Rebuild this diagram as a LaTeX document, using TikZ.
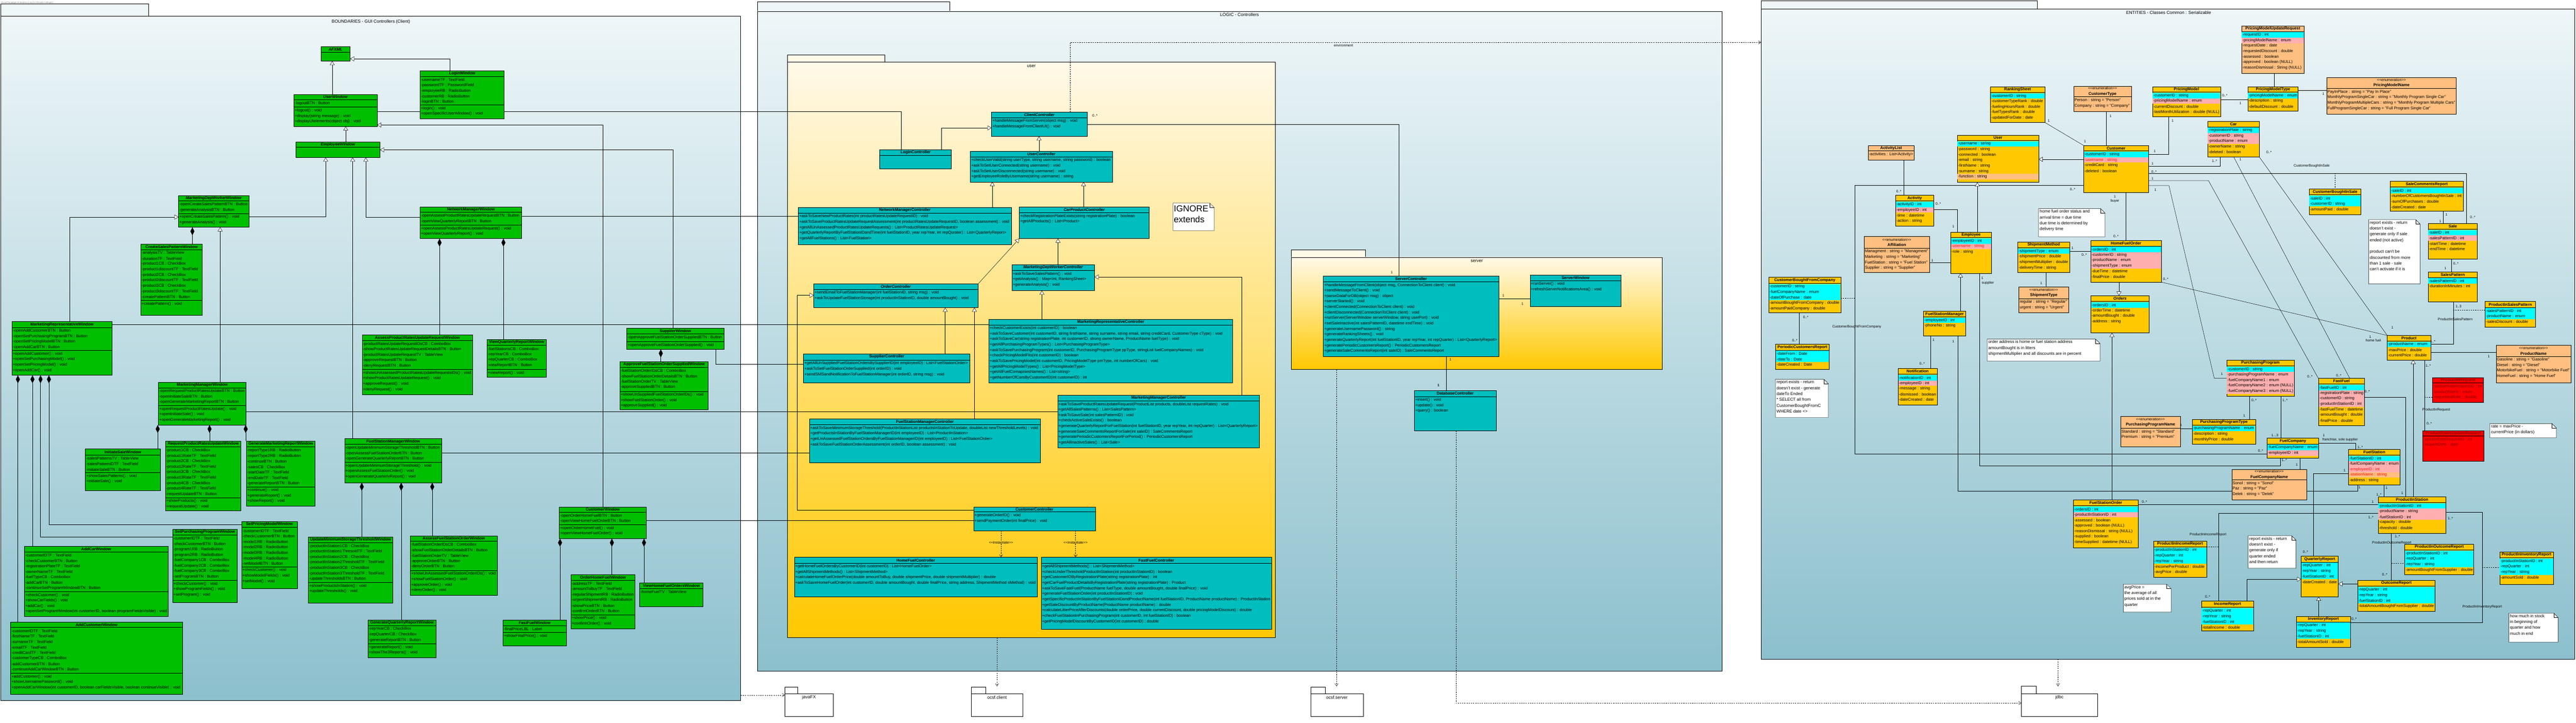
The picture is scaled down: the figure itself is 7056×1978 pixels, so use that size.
\documentclass[tikz,border=0pt]{standalone}
\usepackage{fontspec}
\setmainfont{Liberation Sans}
\usetikzlibrary{arrows.meta,fit}
\definecolor{grn}{HTML}{00BF00}
\definecolor{teal2}{HTML}{00BEBE}
\definecolor{gold}{HTML}{FFC800}
\definecolor{cyn}{HTML}{00FFFF}
\definecolor{pnk}{HTML}{FFAFAF}
\definecolor{pch}{HTML}{FFBF80}
\definecolor{redb}{HTML}{FF0000}
\definecolor{redt}{HTML}{8A0000}
\definecolor{rtx}{HTML}{FF1010}
\definecolor{pkgtop}{HTML}{EEF6F8}
\definecolor{pkgbot}{HTML}{8CC0CD}
\definecolor{ytop}{HTML}{FFF9E8}
\definecolor{ybot}{HTML}{FFC800}
\pgfdeclarelayer{pk}
\pgfdeclarelayer{cn}
\pgfsetlayers{pk,cn,main}
\newcount\Nc
\newcommand\Nn{\global\advance\Nc by 1\relax}
\newcommand\rowfont{\fontsize{11}{15}\selectfont}
\tikzset{
  rowt/.style={anchor=west,inner sep=0pt,font=\rowfont},
  ttl/.style={inner sep=0pt,font=\rowfont\bfseries,align=center},
  mlt/.style={inner sep=0pt,font=\fontsize{9.5}{11}\selectfont},
  notet/.style={inner sep=0pt,anchor=north west,align=left,font=\fontsize{11.5}{16}\selectfont},
  pkt/.style={inner sep=0pt,font=\fontsize{12}{14}\selectfont},
  bord/.style={draw=black,line width=0.9pt},
  ln/.style={line width=0.7pt},
  gen/.style={ln,-{Triangle[length=11pt,width=13pt,fill=white]}},
  comp/.style={ln,{Diamond[length=22pt,width=11pt]}-},
  dep/.style={ln,dashed,-{Straight Barb[length=7pt,width=9pt]}},
  dsh/.style={ln,dashed},
}
\newcommand\Bx[8]{%
  \node[fit={(#2,#3)(#4,#5)},inner sep=0pt,outer sep=0pt,bord,fill=#6] (#1) {};
  \def\bxa{#2}\def\bxb{#4}%
  \draw[line width=0.9pt] (#2,#7) -- (#4,#7);
  \Nn\node[ttl] (h\the\Nc) at ({(#2+#4)/2},{(#3+#7)/2}) {#8};
  \pgfmathsetmacro\curY{#7+2}}
\newcommand\Rw[1]{\Nn\node[rowt] (t\the\Nc) at (\bxa+2,\curY+7.5) {#1};\pgfmathsetmacro\curY{\curY+15}}
\newcommand\Rc[2]{\fill[#1] (\bxa+0.6,\curY) rectangle (\bxb-0.6,\curY+15);\Rw{#2}}
\newcommand\Sp[1]{\draw[line width=0.9pt] (\bxa,#1) -- (\bxb,#1);\pgfmathsetmacro\curY{#1+2}}
\newcommand\Enm{{\mdseries\fontsize{10}{15}\selectfont <{}<enumeration>{}>}\\}
\newcommand\Ml[3]{\Nn\node[mlt] (m\the\Nc) at (#1,#2) {#3};}
\newcommand\Nt[6]{\draw[fill=white,line width=0.7pt] (#2,#3) -- (#4-12,#3) -- (#4,#3+12) -- (#4,#5) -- (#2,#5) -- cycle;
  \draw[line width=0.7pt] (#4-12,#3) -- (#4-12,#3+12) -- (#4,#3+12);
  \node[notet] (#1) at (#2+3,#3+3) {#6};}
\newcommand\Pk[8]{\draw[line width=0.9pt,fill=#7] (#1,#2) rectangle (#3,#4);
  \shade[top color=#7,bottom color=#8] (#1,#4) rectangle (#5,#6);
  \draw[line width=0.9pt] (#1,#4) rectangle (#5,#6);}
\begin{document}
\begin{tikzpicture}[x=1pt,y=-1pt]
\useasboundingbox (0,0) rectangle (7056,1978);
\begin{pgfonlayer}{pk}
\fill[white] (0,0) rectangle (7056,1978);
\Pk{2.5}{10}{407}{44}{2029}{1917}{pkgtop}{pkgbot}
\Pk{2075}{5}{2601}{31}{4716}{1836}{pkgtop}{pkgbot}
\Pk{2157}{150}{2424}{170}{3493}{1745}{ytop}{ybot}
\Pk{3537}{684}{3740}{704}{4553}{1011}{ytop}{ybot}
\Pk{4824}{2}{5580}{24}{7052}{1804}{pkgtop}{pkgbot}
\draw[line width=0.9pt,fill=white] (2150,1880) rectangle (2185,1898) (2150,1898) rectangle (2282,1960);
\draw[line width=0.9pt,fill=white] (2660,1880) rectangle (2700,1898) (2660,1898) rectangle (2802,1960);
\draw[line width=0.9pt,fill=white] (3590,1880) rectangle (3630,1898) (3590,1898) rectangle (3735,1960);
\draw[line width=0.9pt,fill=white] (5537,1878) rectangle (5578,1898) (5537,1898) rectangle (5746,1960);
\end{pgfonlayer}
\node[anchor=west,inner sep=0pt,font=\fontsize{6}{7}\selectfont,text=gray] (wm) at (2,7) {Visual Paradigm Enterprise (Lior(Ort Braude College))};
\node[pkt] (tB) at (1016,59) {BOUNDARIES - GUI Controllers (Client)};
\node[pkt] (tL) at (3395,40) {LOGIC - Controllers};
\node[pkt] (tE) at (5940,34) {ENTITIES - Classes Common : Serializable};
\node[pkt] (tU) at (2825,181) {user};
\node[pkt] (tS) at (4045,714) {server};
\node[pkt] (tJ1) at (2216,1908) {javaFX};
\node[pkt] (tJ2) at (2731,1908) {ocsf.client};
\node[pkt] (tJ3) at (3662,1908) {ocsf.server};
\node[pkt] (tJ4) at (5641,1908) {jdbc};
\node[mlt] (tEnv) at (3680,124) {environment};
\coordinate (entL) at (4824,116);
\coordinate (srvB) at (3661,1011);
\coordinate (ocsfS) at (3661,1878);
\coordinate (jdbcL) at (5537,1924);
\coordinate (userB) at (2731,1745);
\coordinate (ocsfC) at (2731,1878);
\coordinate (bndR) at (2029,1902);
\coordinate (jfxL) at (2150,1902);
\coordinate (entB) at (5637,1804);
\coordinate (jdbcT) at (5637,1878);
% ================= BOUNDARIES =================
\Bx{AFXML}{879}{127}{959}{167}{grn}{143}{\textit{AFXML}}
\Bx{UserWindow}{805}{258}{1033}{346}{grn}{273}{\textit{UserWindow}}
\Rw{-logoutBTN : Button}\Sp{293}
\Rw{+logout() : void}\Rw{+display(string message) : void}\Rw{+displayUIelements(object obj) : void}
\Bx{EmployeeWindow}{811}{388}{1041}{431}{grn}{403}{\textit{EmployeeWindow}}
\Bx{LoginWindow}{1151}{194}{1381}{325}{grn}{209}{LoginWindow}
\Rw{-usernameTF : TextField}\Rw{-passwordTF : PasswordField}\Rw{-employeeRB : RadioButton}\Rw{-customerRB : RadioButton}\Rw{-loginBTN : Button}\Sp{287}
\Rw{+login() : void}\Rw{+openSpecificUserWindow() : void}
\Bx{NetworkManagerWindow}{1151}{566}{1429}{653}{grn}{581}{NetworkManagerWindow}
\Rw{-openAssessProductRatesUpdateRequestBTN : Button}\Rw{-openViewQuarterlyReportBTN : Button}\Sp{616}
\Rw{+openAssessProductRatesUpdateRequest() : void}\Rw{+openViewQuarterlyReport() : void}
\Bx{MarketingDepWorkerWindow}{489}{535}{682}{622}{grn}{550}{\textit{MarketingDepWorkerWindow}}
\Rw{-openCreateSalesPatternBTN : Button}\Rw{-generateAnalysisBTN : Button}\Sp{584}
\Rw{+openCreateSalesPattern() : void}\Rw{+generateAnalysis() : void}
\Bx{CreateSalesPatternWindow}{386}{668}{554}{862}{grn}{683}{CreateSalesPatternWindow}
\Rw{-analysisTV : TableView}\Rw{-durationTF : TextField}\Rw{-product1CB : CheckBox}\Rw{-product1discountTF : TextField}\Rw{-product2CB : CheckBox}\Rw{-product2discountTF : TextField}\Rw{-product3CB : CheckBox}\Rw{-product3discountTF : TextField}\Rw{-createPatternBTN : Button}\Sp{822}
\Rw{+createPattern() : void}
\Bx{MarketingRepresentativeWindow}{33}{880}{307}{1027}{grn}{896}{MarketingRepresentativeWindow}
\Rw{-openAddCustomerBTN : Button}\Rw{-openSetPurchasingProgramBTN : Button}\Rw{-openSetPricingModelBTN : Button}\Rw{-openAddCarBTN : Button}\Sp{959}
\Rw{+openAddCustomer() : void}\Rw{+openSetPurchasingModel() : void}\Rw{+openSetPricingModel() : void}\Rw{+openAddCar() : void}
\Bx{MarketingManagerWindow}{434}{1046}{674}{1163}{grn}{1061}{MarketingManagerWindow}
\Rw{-openRequestProductRatesUpdateBTN : Button}\Rw{-openInitiateSaleBTN : Button}\Rw{-openGenerateMarketingReportBTN : Button}\Sp{1110}
\Rw{+openRequestProductRatesUpdate() : void}\Rw{+openInitiateSale() : void}\Rw{+openGenerateMarketingReport() : void}
\Bx{InitiateSaleWindow}{234}{1228}{439}{1343}{grn}{1245}{InitiateSaleWindow}
\Rw{-salesPatternsTV : TableView}\Rw{-salesPatternIDTF : TextField}\Rw{-initiateSaleBTN : Button}\Sp{1293}
\Rw{+showSalesPatterns() : void}\Rw{+initiateSale() : void}
\Bx{RequestProductRatesUpdateWindow}{453}{1207}{660}{1398}{grn}{1223}{RequestProductRatesUpdateWindow}
\Rw{-product1CB : CheckBox}\Rw{-product1RateTF : TextField}\Rw{-product2CB : CheckBox}\Rw{-product2RateTF : TextField}\Rw{-product3CB : CheckBox}\Rw{-product3RateTF : TextField}\Rw{-product4CB : CheckBox}\Rw{-product4RateTF : TextField}\Rw{-requestUpdateBTN : Button}\Sp{1362}
\Rw{+showProducts() : void}\Rw{+requestUpdate() : void}
\Bx{GenerateMarketingReportWindow}{675}{1207}{863}{1385}{grn}{1223}{GenerateMarketingReportWindow}
\Rw{-reportType1RB : RadioButton}\Rw{-reportType2RB : RadioButton}\Rw{-continueBTN : Button}\Rw{-salesCB : CheckBox}\Rw{-startDateTF : TextField}\Rw{-endDateTF : TextField}\Rw{-generateReportBTN : Button}\Sp{1332}
\Rw{+continue() : void}\Rw{+generateReport() : void}\Rw{+showReport() : void}
\Bx{SetPricingModelWindow}{662}{1427}{814}{1610}{grn}{1443}{SetPricingModelWindow}
\Rw{-customerIDTF : TextField}\Rw{-checkCustomerBTN : Button}\Rw{-model1RB : RadioButton}\Rw{-model2RB : RadioButton}\Rw{-model3RB : RadioButton}\Rw{-model4RB : RadioButton}\Rw{-setModelBTN : Button}\Sp{1551}
\Rw{+checkCustomer() : void}\Rw{+showModelFields() : void}\Rw{+setModel() : void}
\Bx{SetPurchasingProgramWindow}{473}{1448}{650}{1649}{grn}{1464}{SetPurchasingProgramWindow}
\Rw{-customerIDTF : TextField}\Rw{-checkCustomerBTN : Button}\Rw{-program1RB : RadioButton}\Rw{-program2RB : RadioButton}\Rw{-fuelCompany1CB : ComboBox}\Rw{-fuelCompany2CB : ComboBox}\Rw{-fuelCompany3CB : ComboBox}\Rw{-setProgramBTN : Button}\Sp{1588}
\Rw{+checkCustomer() : void}\Rw{+showProgramFields() : void}\Rw{+setProgram() : void}
\Bx{AddCarWindow}{67}{1495}{460}{1687}{grn}{1510}{AddCarWindow}
\Rw{-customerIDTF : TextField}\Rw{-checkCustomerBTN : Button}\Rw{-registrationPlateTF : TextField}\Rw{-ownerNameTF : TextField}\Rw{-fuelTypeCB : ComboBox}\Rw{-addCarBTN : Button}\Rw{-continueSetProgramWindowBTN : Button}\Sp{1619}
\Rw{+checkCustomer() : void}\Rw{+showCarFields() : void}\Rw{+addCar() : void}\Rw{+openSetProgramWindow(int customerID, boolean programFieldsVisible) : void}
\Bx{AddCustomerWindow}{29}{1702}{500}{1900}{grn}{1717}{AddCustomerWindow}
\Rw{-customerIDTF : TextField}\Rw{-firstNameTF : TextField}\Rw{-surnameTF : TextField}\Rw{-emailTF : TextField}\Rw{-creditCardTF : TextField}\Rw{-customerTypeCB : ComboBox}\Rw{-addCustomerBTN : Button}\Rw{-continueAddCarWindowBTN : Button}\Sp{1842}
\Rw{+addCustomer() : void}\Rw{+showUsernamePassword() : void}\Rw{+openAddCarWindow(int customerID, boolean carFieldsVisible, boolean continueVisible) : void}
\Bx{FuelStationManagerWindow}{944}{1200}{1210}{1321}{grn}{1216}{FuelStationManagerWindow}
\Rw{-openUpdateMinimumStorageThresholdBTN : Button}\Rw{-openAssessFuelStationOrderBTN : Button}\Rw{-openGenerateQuarterlyReportBTN : Button}\Sp{1265}
\Rw{+openUpdateMinimumStorageThreshold() : void}\Rw{+openAssessFuelStationOrder() : void}\Rw{+openGenerateQuarterlyReport() : void}
\Bx{UpdateMinimumStorageThresholdWindow}{845}{1470}{1076}{1650}{grn}{1485}{UpdateMinimumStorageThresholdWindow}
\Rw{-productInStation1CB : CheckBox}\Rw{-productInStation1ThresoldTF : TextField}\Rw{-productInStation2CB : CheckBox}\Rw{-productInStation2ThresholdTF : TextField}\Rw{-productInStation3CB : CheckBox}\Rw{-productInStation3ThresholdTF : TextField}\Rw{-updateThresholdsBTN : Button}\Sp{1594}
\Rw{+showProductsInStation() : void}\Rw{+updateThresholds() : void}
\Bx{AssessFuelStationOrderWindow}{1124}{1466}{1362}{1629}{grn}{1481}{AssessFuelStationOrderWindow}
\Rw{-fuelStationOrderIDsCB : ComboBox}\Rw{-showFuelStationOrderDetailsBTN : Button}\Rw{-fuelStationOrderTV : TableView}\Rw{-approveOrderBTN : Button}\Rw{-denyOrderBTN : Button}\Sp{1561}
\Rw{+showUnAssessedFuelStationOrderIDs() : void}\Rw{+showFuelStationOrder() : void}\Rw{+approveOrder() : void}\Rw{+denyOrder() : void}
\Bx{GenerateQuarterlyReportWindow}{1008}{1697}{1194}{1800}{grn}{1712}{GenerateQuarterlyReportWindow}
\Rw{-repYearCB : CheckBox}\Rw{-repQuarterCB : CheckBox}\Rw{-generateReportBTN : Button}\Sp{1762}
\Rw{+generateReport() : void}\Rw{+showThe3Reports() : void}
\Bx{AssessProductRatesUpdateRequestWindow}{992}{917}{1295}{1080}{grn}{932}{AssessProductRatesUpdateRequestWindow}
\Rw{-productRatesUpdateRequestIDsCB : ComboBox}\Rw{-showProductRatesUpdateRequestDetailsBTN : Button}\Rw{-productRatesUpdateRequestTV : TableView}\Rw{-approveRequestBTN : Button}\Rw{-denyRequestBTN : Button}\Sp{1011}
\Rw{+showUnAssessedProductRatesUpdateRequestsIDs() : void}\Rw{+showProductRatesUpdateRequest() : void}\Rw{+approveRequest() : void}\Rw{+denyRequest() : void}
\Bx{ViewQuarterlyReportWindow}{1334}{929}{1496}{1032}{grn}{945}{ViewQuarterlyReportWindow}
\Rw{-fuelStationsCB : ComboBox}\Rw{-repYearCB : ComboBox}\Rw{-repQuarterCB : ComboBox}\Rw{-viewReportBTN : Button}\Sp{1011}
\Rw{+viewReport() : void}
\Bx{SupplierWindow}{1717}{898}{1983}{956}{grn}{914}{SupplierWindow}
\Rw{-openApproveFuelStationOrderSuppliedBTN : Button}\Sp{935}
\Rw{+openApproveFuelStationOrderSupplied() : void}
\Bx{ApproveFuelStationOrderSuppliedWindow}{1698}{989}{1940}{1121}{grn}{1005}{ApproveFuelStationOrderSuppliedWindow}
\Rw{-fuelStationOrderIDsCB : ComboBox}\Rw{-showFuelStationOrderDetailsBTN : Button}\Rw{-fuelStationOrderTV : TableView}\Rw{-approveSuppliedBTN : Button}\Sp{1071}
\Rw{+showUnSuppliedFuelStationOrderIDs() : void}\Rw{+showFuelStationOrder() : void}\Rw{+approveSupplied() : void}
\Bx{CustomerWindow}{1532}{1387}{1770}{1474}{grn}{1402}{CustomerWindow}
\Rw{-openOrderHomeFuelBTN : Button}\Rw{-openViewHomeFuelOrderBTN : Button}\Sp{1436}
\Rw{+openOrderHomeFuel() : void}\Rw{+openViewHomeFuelOrder() : void}
\Bx{FastFuelWindow}{1378}{1697}{1551}{1767}{grn}{1712}{FastFuelWindow}
\Rw{-finalPriceLBL : Label}\Sp{1731}
\Rw{+showFinalPrice() : void}
\Bx{OrderHomeFuelWindow}{1564}{1572}{1739}{1720}{grn}{1588}{OrderHomeFuelWindow}
\Rw{-addressTF : TextField}\Rw{-amountToBuyTF : TextField}\Rw{-regularShipmentRB : RadioButton}\Rw{-urgentShipmentRB : RadioButton}\Rw{-showPriceBTN : Button}\Rw{-confirmOrderBTN : Button}\Sp{1682}
\Rw{+showPrice() : void}\Rw{+confirmOrder() : void}
\Bx{ViewHomeFuelOrdersWindow}{1752}{1595}{1926}{1660}{grn}{1610}{ViewHomeFuelOrdersWindow}
\Rw{-homeFuelTV : TableView}
% ================= LOGIC =================
\Bx{ClientController}{2716}{306}{2978}{373}{teal2}{322}{\textit{ClientController}}
\Rw{+handleMessageFromServer(object msg) : void}\Rw{+handleMessageFromClientUI() : void}
\Bx{LoginController}{2410}{410}{2606}{462}{teal2}{425}{LoginController}
\Bx{UserController}{2658}{414}{3047}{498}{teal2}{429}{\textit{UserController}}
\Rw{+checkUserValid(string userType, string username, string password) : boolean}\Rw{+askToSetUserConnected(string username) : void}\Rw{+askToSetUserDisconnected(string username) : void}\Rw{+getEmployeeRoleByUsername(string username) : string}
\Bx{NetworkManagerController}{2187}{568}{2770}{669}{teal2}{583}{NetworkManagerController}
\Rw{+askToSaveNewProductRates(int productRatesUpdateRequestID) : void}\Rw{+askToSaveProductRatesUpdateRequestAssessment(int productRatesUpdateRequestID, boolean assessment) : void}\Rw{+getAllUnAssessedProductRatesUpdateRequests() : List<ProductRatesUpdateRequest>}\Rw{+getQuarterlyReportByFuelStationIDandTime(int fuelStationID, year repYear, int repQurater) : List<QuarterlyReport>}\Rw{+getAllFuelStations() : List<FuelStation>}
\Bx{CarProductController}{2792}{567}{3148}{653}{teal2}{582}{\textit{CarProductController}}
\Rw{+checkRegistrationPlateExists(string registrationPlate) : boolean}\Rw{+getAllProducts() : List<Product>}
\Bx{MarketingDepWorkerController}{2772}{724}{2998}{795}{teal2}{740}{\textit{MarketingDepWorkerController}}
\Rw{+askToSaveSalesPattern() : void}\Rw{+getAnalysis() : Map<int, RankingSheet>}\Rw{+generateAnalysis() : void}
\Bx{OrderController}{2229}{777}{2679}{842}{teal2}{792}{\textit{OrderController}}
\Rw{+sendEmailToFuelStationManager(int fuelStationID, string msg) : void}\Rw{+askToUpdateFuelStationStorage(int productInStationID, double amountBought) : void}
\Bx{MarketingRepresentativeController}{2709}{874}{3376}{1048}{teal2}{889}{MarketingRepresentativeController}
\Rw{+checkCustomerExists(int customerID) : boolean}\Rw{+askToSaveCustomer(int customerID, string firstName, string surname, string email, string creditCard, CustomerType cType) : void}\Rw{+askToSaveCar(string registrationPlate, int customerID, strong ownerName, ProductName fuelType) : void}\Rw{+getAllPurchasingProgramTypes() : List<PurchasingProgramType>}\Rw{+askToSavePurchasingProgram(int customerID, PurchasingProgramType ppType, stringList fuelCompanyNames) : void}\Rw{+checkPricingModelFits(int customerID) : boolean}\Rw{+askToSavePricingModel(int customerID, PricingModelType pmType, int numberOfCars) : void}\Rw{+getAllPricingModelTypes() : List<PricingModelType>}\Rw{+getAllFuelComapniesNames() : List<string>}\Rw{+getNumberOfCarsByCustomerID(int customerID) : int}
\Bx{SupplierController}{2201}{968}{2657}{1047}{teal2}{985}{SupplierController}
\Rw{+getAllUnSuppliedFuelStationOrdersBySupplierID(int employeeID) : List<FuelStationOrder>}\Rw{+askToSetFuelStationOrderSupplied(int orderID) : void}\Rw{+sendSMSandNotificationToFuelStationManager(int orderID, string msg) : void}
\Bx{MarketingManagerController}{2897}{1081}{3450}{1225}{teal2}{1097}{MarketingManagerController}
\Rw{+askToSaveProductRatesUpdateRequest(ProductList products, doubleList requestRates) : void}\Rw{+getAllSalesPatterns() : List<SalesPattern>}\Rw{+askToSaveSale(int salesPatternID) : void}\Rw{+checkActiveSaleExists() : boolean}\Rw{+generateQuarterlyReportForFuelStation(int fuelStationID, year repYear, int repQuarter) : List<QuarterlyReport>}\Rw{+generateSaleCommentsReportForSale(int saleID) : SaleCommentsReport}\Rw{+generatePeriodicCustomersReportForPeriod() : PeriodicCustomersReport}\Rw{+getAllInactiveSales() : List<Sale>}
\Bx{FuelStationManagerController}{2217}{1147}{2850}{1266}{teal2}{1162}{FuelStationManagerController}
\Rw{+askToSaveMinimumStorageThreshold(ProductInStationList productsInStationToUpdate, doubleList newThresholdLevels) : void}\Rw{+getProductsInStationByFuelStationManagerID(int employeeID) : List<ProductInStation>}\Rw{+getUnAssessedFuelStationOrdersByFuelStationManagerID(int employeeID) : List<FuelStationOrder>}\Rw{+askToSaveFuelStationOrderAssessment(int orderID, boolean assessment) : void}
\Bx{CustomerController}{2667}{1387}{3000}{1452}{teal2}{1401}{CustomerController}
\Rw{+generateOrderID() : void}\Rw{+sendPaymentOrder(int finalPrice) : void}
\Bx{HomeFuelController}{2176}{1525}{2841}{1633}{teal2}{1541}{HomeFuelController}
\Rw{+getHomeFuelOrdersByCustomerID(int customerID) : List<HomeFuelOrder>}\Rw{+getAllShipmentMethods() : List<ShipmentMethod>}\Rw{+calculateHomeFuelOrderPrice(double amountToBuy, double shipmentPrice, double shipmentMultiplier) : double}\Rw{+askToSaveHomeFuelOrder(int customerID, double amountBought, double finalPrice, string address, ShipmentMethod sMethod) : void}
\Bx{FastFuelController}{2852}{1525}{3483}{1722}{teal2}{1541}{FastFuelController}
\Rw{+getAllShipmentMethods() : List<ShipmentMethod>}\Rw{+checkUnderThresholdProductInStation(int productInStationID) : boolean}\Rw{+getCustomerIDByRegistrationPlate(string registrationPlate) : int}\Rw{+getCarFuelProductDetailsByRegistrationPlate(string registrationPlate) : Product}\Rw{+askToSaveFastFuel(ProductName fuelType, double amountBought, double finalPrice) : void}\Rw{+generateFuelStationOrder(int productInStationID) : void}\Rw{+getSpecificProductInStationByFuelStationIDandProductName(int fuelStationID, ProductName productName) : ProductInStation}\Rw{+getSaleDiscountByProductName(ProductName productName) : double}\Rw{+calculateLitterPriceAfterDiscounts(double orderPrice, double currentDiscount, double pricingModelDiscount) : double}\Rw{+checkFuelStationInPurchasingProgram(int customerID, int fuelStationID) : boolean}\Rw{+getPricingModelDiscountByCustomerID(int customerID) : double}
\Bx{ServerController}{3625}{755}{4105}{976}{teal2}{771}{ServerController}
\Rw{+handleMessageFromClient(object msg, ConnectionToClient client) : void}\Rw{+sendMessageToClient() : void}\Rw{+parseDataForDB(object msg) : object}\Rw{+serverStarted() : void}\Rw{+clientConnected(ConnectionToClient client) : void}\Rw{+clientDisconnected(ConnectionToClient client) : void}\Rw{+runServer(ServerWindow serverWindow, string userPort) : void}\Rw{+setSaleInactive(int salesPatternID, datetime endTime) : void}\Rw{+generateUsernamePassword() : string}\Rw{+generateRankingSheets() : void}\Rw{+generateQuarterlyReport(int fuelStationID, year repYear, int repQuarter) : List<QuarterlyReport>}\Rw{+generatePeriodicCustomersReport() : PeriodicCustomersReport}\Rw{+generateSaleCommentsReport(int saleID) : SaleCommentsReport}
\Bx{ServerWindow}{4191}{752}{4440}{839}{teal2}{768}{ServerWindow}
\Rw{+runServer() : void}\Rw{+refreshServerNotificationsArea() : void}
\Bx{DatabaseController}{3874}{1069}{4098}{1179}{teal2}{1085}{DatabaseController}
\Rw{+insert() : void}\Rw{+update() : void}\Rw{+query() : boolean}
\draw[line width=0.7pt,fill=white] (3213,556) -- (3314,556) -- (3326,568) -- (3326,631) -- (3213,631) -- cycle;
\draw[line width=0.7pt] (3314,556) -- (3314,568) -- (3326,568);
\node[inner sep=0pt,anchor=north west,align=left,font=\fontsize{24}{30}\selectfont] (ign) at (3215,562) {IGNORE\\extends};
% ================= ENTITIES =================
\Bx{RankingSheet}{5452}{238}{5601}{335}{gold}{253}{RankingSheet}
\Rc{cyn}{-customerID : string}\Rw{-customerTypeRank : double}\Rw{-fuelingHoursRank : double}\Rw{-fuelTypesRank : double}\Rw{-updatedForDate : date}
\Bx{CustomerType}{5680}{236}{5838}{305}{pch}{265}{\Enm CustomerType}
\Rw{Person : string = "Person"}\Rw{Company : string = "Company"}
\Bx{PricingModel}{5896}{237}{6082}{320}{gold}{252}{PricingModel}
\Rc{cyn}{-customerID : string}\Rc{pnk}{-pricingModelName : enum}\Rw{-currentDiscount : double}\Rw{-lastMonthUtilization : double (NULL)}
\Bx{User}{5361}{370}{5584}{499}{gold}{384}{User}
\Rc{cyn}{-username : string}\Rw{-password : string}\Rw{-connected : boolean}\Rw{-email : string}\Rw{-firstName : string}\Rw{-surname : string}\Rc{pch}{-function : string}
\Bx{Customer}{5707}{398}{5885}{527}{gold}{413}{Customer}
\Rc{cyn}{-customerID : string}\Rc{pnk}{\textcolor{rtx}{-username : string}}\Rw{-creditCard : string}\Rw{-deleted : boolean}
\Bx{ActivityList}{5117}{398}{5243}{438}{pch}{413}{ActivityList}
\Rw{-activities : List<Activity>}
\Bx{Activity}{5192}{534}{5297}{618}{gold}{550}{Activity}
\Rc{cyn}{-activityID : int}\Rc{pnk}{-employeeID : int}\Rw{-time : datetime}\Rw{-action : string}
\Bx{Employee}{5343}{635}{5455}{748}{gold}{650}{Employee}
\Rc{cyn}{-employeeID : int}\Rc{pnk}{\textcolor{rtx}{-username : string}}\Rw{-role : string}
\Bx{Affiliation}{5106}{647}{5285}{746}{pch}{679}{\Enm Affiliation}
\Rw{Managment : string = "Managment"}\Rw{Marketing : string = "Marketing"}\Rw{FuelStation : string = "Fuel Station"}\Rw{Supplier : string = "Supplier"}
\Bx{CustomerBoughtFromCompany}{4845}{758}{5042}{855}{gold}{775}{CustomerBoughtFromCompany}
\Rc{cyn}{-customerID : string}\Rc{cyn}{-fuelCompanyName : enum}\Rc{cyn}{-dateOfPurchase : date}\Rw{-amountBoughtFromCompany : double}\Rw{-amountPaidCompany : double}
\Bx{PeriodicCustomersReport}{4864}{942}{5010}{1011}{gold}{958}{PeriodicCustomersReport}
\Rc{cyn}{-dateFrom : Date}\Rc{cyn}{-dateTo : Date}\Rw{-dateCreated : Date}
\Bx{Notification}{5199}{1008}{5306}{1108}{gold}{1024}{Notification}
\Rc{cyn}{-notificationID : int}\Rc{pnk}{-employeeID : int}\Rw{-message : string}\Rw{-dismissed : boolean}\Rw{-dateCreated : date}
\Bx{FuelStationManager}{5269}{852}{5384}{919}{gold}{867}{FuelStationManager}
\Rc{cyn}{-employeeID : int}\Rw{-phoneNo : string}
\Bx{ShipmentMethod}{5527}{662}{5669}{745}{gold}{678}{ShipmentMethod}
\Rc{cyn}{-shipmentType : enum}\Rw{-shipmentPrice : double}\Rw{-shipmentMultiplier : double}\Rw{-deliveryTime : string}
\Bx{ShipmentType}{5530}{785}{5666}{855}{pch}{817}{\Enm ShipmentType}
\Rw{regular : string = "Regular"}\Rw{urgent : string = "Urgent"}
\Bx{HomeFuelOrder}{5727}{658}{5920}{772}{gold}{673}{HomeFuelOrder}
\Rc{cyn}{-ordersID : int}\Rc{pnk}{-customerID : string}\Rc{pnk}{-productName : enum}\Rc{pnk}{-shipmentType : enum}\Rw{-dueTime : datetime}\Rw{-finalPrice : double}
\Bx{Orders}{5727}{809}{5887}{911}{gold}{825}{\textit{Orders}}
\Rc{cyn}{-ordersID : int}\Rw{-orderTime : datetime}\Rw{-amountBought : double}\Rw{-address : string}
\Bx{FuelStationOrder}{5679}{1368}{5857}{1499}{gold}{1384}{FuelStationOrder}
\Rc{cyn}{-ordersID : int}\Rc{pnk}{-productInStationID : int}\Rw{-assessed : boolean}\Rw{-approved : boolean (NULL)}\Rw{-reasonDismissal : string (NULL)}\Rw{-supplied : boolean}\Rw{-timeSupplied : datetime (NULL)}
\Bx{PurchasingProgramName}{5809}{1139}{5972}{1223}{pch}{1172}{\Enm PurchasingProgramName}
\Rw{Standard : string = "Standard"}\Rw{Premium : string = "Premium"}
\Bx{ProductInIncomeReport}{5899}{1481}{6044}{1580}{gold}{1496}{ProductInIncomeReport}
\Rc{cyn}{-productInStationID : int}\Rc{cyn}{-repQuarter : int}\Rc{cyn}{-repYear : string}\Rw{-incomePerProduct : double}\Rw{-avgPrice : double}
\Bx{PricingModelUpdateRequest}{6140}{71}{6311}{201}{pch}{86}{PricingModelUpdateRequest}
\Rc{cyn}{-requestID : int}\Rc{pnk}{-pricingModelName : enum}\Rw{-requestDate : date}\Rw{-requestedDiscount : double}\Rw{-assessed : boolean}\Rw{-approved : boolean (NULL)}\Rw{-reasonDismissal : String (NULL)}
\Bx{PricingModelType}{6157}{237}{6295}{304}{gold}{252}{PricingModelType}
\Rc{cyn}{-pricingModelName : enum}\Rw{-description : string}\Rw{-defaultDiscount : double}
\Bx{PricingModelName}{6373}{212}{6728}{312}{pch}{242}{\Enm PricingModelName}
\Rw{PayInPlace : string = "Pay In Place"}\Rw{MonthlyProgramSingleCar : string = "Monthly Program Single Car"}\Rw{MonthlyProgramMultipleCars : string = "Monthly Program Multiple Cars"}\Rw{FullProgramSingleCar : string = "Full Program Single Car"}
\Bx{Car}{6047}{332}{6188}{429}{gold}{347}{Car}
\Rc{cyn}{-registrationPlate : string}\Rc{pnk}{-customerID : string}\Rc{pnk}{-productName : enum}\Rw{-ownerName : string}\Rw{-deleted : boolean}
\Bx{CustomerBoughtInSale}{6325}{517}{6467}{587}{gold}{533}{CustomerBoughtInSale}
\Rc{cyn}{-saleID : int}\Rc{cyn}{-customerID : string}\Rw{-amountPaid : double}
\Bx{SaleCommentsReport}{6547}{496}{6747}{578}{gold}{512}{SaleCommentsReport}
\Rc{cyn}{-saleID : int}\Rw{-numberOfCustomersBoughtInSale : int}\Rw{-sumOfPurchases : double}\Rw{-dateCreated : date}
\Bx{Sale}{6651}{611}{6786}{709}{gold}{627}{Sale}
\Rc{cyn}{-saleID : int}\Rc{pnk}{-salesPatternID : int}\Rw{-startTime : datetime}\Rw{-endTime : datetime}
\Bx{SalesPattern}{6651}{744}{6786}{826}{gold}{759}{SalesPattern}
\Rc{cyn}{-salesPatternID : int}\Rw{-durationInMinutes : int}
\Bx{ProductInSalesPattern}{6807}{825}{6945}{895}{gold}{841}{ProductInSalesPattern}
\Rc{cyn}{-salesPatternID : int}\Rc{cyn}{-productName : enum}\Rw{-salesDiscount : double}
\Bx{Product}{6539}{918}{6658}{985}{gold}{933}{Product}
\Rc{cyn}{-productName : enum}\Rw{-maxPrice : double}\Rw{-currentPrice : double}
\Bx{ProductName}{6837}{945}{7042}{1047}{pch}{975}{\Enm ProductName}
\Rw{Gasoline : string = "Gasoline"}\Rw{Diesel : string = "Diesel"}\Rw{MotorbikeFuel : string = "Motorbike Fuel"}\Rw{HomeFuel : string = "Home Fuel"}
\Bx{PurchasingProgram}{6099}{985}{6284}{1084}{gold}{1001}{PurchasingProgram}
\Rc{cyn}{-customerID : string}\Rc{pnk}{-purchasingProgramName : enum}\Rc{pnk}{-fuelCompanyName1 : enum}\Rc{pnk}{-fuelCompanyName2 : enum (NULL)}\Rc{pnk}{-fuelCompanyName3 : enum (NULL)}
\Bx{PurchasingProgramType}{6005}{1148}{6178}{1216}{gold}{1163}{PurchasingProgramType}
\Rc{cyn}{-purchasingProgramName : enum}\Rw{-description : string}\Rw{-monthlyPrice : double}
\Bx{FastFuel}{6351}{1035}{6476}{1165}{gold}{1051}{FastFuel}
\Rc{cyn}{-fastFuelID : int}\Rc{pnk}{-registrationPlate : string}\Rc{pnk}{-customerID : string}\Rc{pnk}{-productInStationID : int}\Rw{-fastFuelTime : datetime}\Rw{-amountBought : double}\Rw{-finalPrice : double}
\Bx{FuelCompany}{6210}{1199}{6351}{1253}{gold}{1215}{FuelCompany}
\Rc{cyn}{-fuelCompanyName : enum}\Rc{pnk}{-employeeID : int}
\Bx{FuelCompanyName}{6113}{1284}{6318}{1368}{pch}{1313}{\Enm FuelCompanyName}
\Rw{Sonol : string = "Sonol"}\Rw{Paz : string = "Paz"}\Rw{Delek : string = "Delek"}
\Bx{FuelStation}{6433}{1230}{6574}{1327}{gold}{1245}{FuelStation}
\Rc{cyn}{-fuelStationID : int}\Rc{pnk}{-fuelCompanyName : enum}\Rc{pnk}{\textcolor{rtx}{-employeeID : int}}\Rc{pch}{\textcolor{rtx}{-stationName : string}}\Rw{-address : string}
\Bx{ProductInStation}{6514}{1360}{6700}{1459}{gold}{1375}{ProductInStation}
\Rc{cyn}{-productInStationID : int}\Rc{pnk}{-productName : string}\Rc{pnk}{-fuelStationID : int}\Rw{-capacity : double}\Rw{-threshold : double}
\Bx{ProductInRequest}{6663}{1033}{6803}{1101}{redb}{1048}{\textcolor{redt}{ProductInRequest}}
\Rw{\textcolor{redt}{-updateRateRequestID : int}}\Rw{\textcolor{redt}{-productName : enum}}\Rw{\textcolor{redt}{-requestedRate : double}}
\Bx{ProductRatesUpdateRequest}{6636}{1179}{6804}{1262}{redb}{1193}{\textcolor{redt}{ProductRatesUpdateRequest}}
\Rw{\textcolor{redt}{-updateRateRequestID : int}}\Rw{\textcolor{redt}{-requestDate : date}}
\Bx{ProductInOutcomeReport}{6587}{1489}{6776}{1573}{gold}{1505}{ProductInOutcomeReport}
\Rc{cyn}{-productInStationID : int}\Rc{cyn}{-repQuarter : int}\Rc{cyn}{-repYear : string}\Rw{-amountBoughtFromSupplier : double}
\Bx{ProductInInventoryReport}{6847}{1510}{6994}{1599}{gold}{1526}{ProductInInventoryReport}
\Rc{cyn}{-productInStationID : int}\Rc{cyn}{-repQuarter : int}\Rc{cyn}{-repYear : string}\Rw{-amountSold : double}
\Bx{QuarterlyReport}{6303}{1522}{6405}{1633}{gold}{1538}{QuarterlyReport}
\Rc{cyn}{-repQuarter : int}\Rc{cyn}{-repYear : string}\Rc{cyn}{-fuelStationID : int}\Rw{-dateCreated : date}
\Bx{IncomeReport}{6030}{1645}{6173}{1727}{gold}{1662}{IncomeReport}
\Rc{cyn}{-repQuarter : int}\Rc{cyn}{-repYear : string}\Rc{cyn}{-fuelStationID : int}\Rw{-totalIncome : double}
\Bx{OutcomeReport}{6458}{1588}{6670}{1673}{gold}{1604}{OutcomeReport}
\Rc{cyn}{-repQuarter : int}\Rc{cyn}{-repYear : string}\Rc{cyn}{-fuelStationID : int}\Rw{-totalAmountBoughtFromSupplier : double}
\Bx{InventoryReport}{6290}{1687}{6438}{1771}{gold}{1702}{InventoryReport}
\Rc{cyn}{-repQuarter : int}\Rc{cyn}{-repYear : string}\Rc{cyn}{-fuelStationID : int}\Rw{-totalAmountSold : double}
% notes
\Nt{n1}{5584}{571}{5766}{648}{home fuel order status and\\arrival time = due time\\due time is determined by\\delivery time}
\Nt{n2}{5443}{928}{5752}{988}{order address is home or fuel station address\\amountBought is in litters\\shipmentMultiplier and all discounts are in percent}
\Nt{n3}{4863}{1038}{5008}{1142}{report exists - return\\doesn't exist - generate\\dateTo Ended\\* SELECT all from\\CustomerBoughtFromC\\ WHERE date <>}
\Nt{n4}{5816}{1599}{5947}{1675}{avgPrice =\\the average of all\\prices sold at in the\\quarter}
\Nt{n5}{6488}{601}{6629}{777}{report exists - return\\doesn't exist -\\generate only if sale\\ended (not active)\\[16pt]product can't be\\discounted from more\\than 1 sale - sale\\can't activate if it is}
\Nt{n6}{6820}{1159}{7002}{1198}{rate = maxPrice -\\currentPrice (in dollars)}
\Nt{n7}{6158}{1466}{6289}{1555}{report exists - return\\doesn't exist -\\generate only if\\quarter ended\\and then return}
\Nt{n8}{6872}{1678}{7007}{1757}{how much in stock\\in beginning of\\quarter and how\\much in end}
% ================= CONNECTORS =================
\begin{pgfonlayer}{cn}
\draw[gen] (UserWindow.north -| 910,0) -- (AFXML.south -| 910,0);
\draw[gen] (LoginWindow.north -| 1232,0) |- (AFXML.east |- 0,161);
\draw[gen] (EmployeeWindow.north -| 947,0) -- (UserWindow.south -| 947,0);
\draw[gen] (MarketingDepWorkerWindow.east |- 0,593) -| (EmployeeWindow.south -| 892,0);
\draw[gen] (FuelStationManagerWindow.north -| 966,0) -- (EmployeeWindow.south -| 966,0);
\draw[gen] (NetworkManagerWindow.west |- 0,594) -| (EmployeeWindow.south -| 1002,0);
\draw[gen] (CustomerWindow.north -| 1652,0) |- (UserWindow.east |- 0,342);
\draw[gen] (SupplierWindow.north -| 1843,0) |- (EmployeeWindow.east |- 0,410);
\draw[gen] (MarketingRepresentativeWindow.north -| 191,0) |- (MarketingDepWorkerWindow.west |- 0,594);
\draw[gen] (MarketingManagerWindow.north -| 603,0) -- (MarketingDepWorkerWindow.south -| 603,0);
\draw[comp] (MarketingDepWorkerWindow.south -| 527,0) -- (CreateSalesPatternWindow.north -| 527,0);
\draw[comp] (MarketingRepresentativeWindow.south -| 49,0) -- (AddCustomerWindow.north -| 49,0);
\draw[comp] (MarketingRepresentativeWindow.south -| 89,0) -- (AddCarWindow.north -| 89,0);
\draw[comp] (MarketingRepresentativeWindow.south -| 111,0) |- (SetPurchasingProgramWindow.west |- 0,1469);
\draw[comp] (MarketingRepresentativeWindow.south -| 134,0) |- (SetPricingModelWindow.west |- 0,1436);
\draw[comp] (MarketingManagerWindow.south -| 432,0) -- (InitiateSaleWindow.north -| 432,0);
\draw[comp] (MarketingManagerWindow.south -| 574,0) -- (RequestProductRatesUpdateWindow.north -| 574,0);
\draw[comp] (MarketingManagerWindow.south -| 673,0) -- (GenerateMarketingReportWindow.north -| 673,0);
\draw[comp] (NetworkManagerWindow.south -| 1204,0) -- (AssessProductRatesUpdateRequestWindow.north -| 1204,0);
\draw[comp] (NetworkManagerWindow.south -| 1379,0) -- (ViewQuarterlyReportWindow.north -| 1379,0);
\draw[comp] (FuelStationManagerWindow.south -| 991,0) -- (UpdateMinimumStorageThresholdWindow.north -| 991,0);
\draw[comp] (FuelStationManagerWindow.south -| 1099,0) -- (GenerateQuarterlyReportWindow.north -| 1099,0);
\draw[comp] (FuelStationManagerWindow.south -| 1184,0) -- (AssessFuelStationOrderWindow.north -| 1184,0);
\draw[comp] (SupplierWindow.south -| 1810,0) -- (ApproveFuelStationOrderSuppliedWindow.north -| 1810,0);
\draw[comp] (CustomerWindow.south -| 1534,0) -- (FastFuelWindow.north -| 1534,0);
\draw[comp] (CustomerWindow.south -| 1676,0) -- (OrderHomeFuelWindow.north -| 1676,0);
\draw[comp] (CustomerWindow.south -| 1764,0) -- (ViewHomeFuelOrdersWindow.north -| 1764,0);
\draw[ln] (UserWindow.east |- 0,305) -| (LoginController.north -| 2469,0);
\draw[ln] (NetworkManagerWindow.east |- 0,592) -- (NetworkManagerController.west |- 0,592);
\draw[ln] (MarketingRepresentativeWindow.east |- 0,888) -- (MarketingRepresentativeController.west |- 0,888);
\draw[ln] (MarketingManagerWindow.east |- 0,1126) -- (MarketingManagerController.west |- 0,1126);
\draw[ln] (FuelStationManagerWindow.east |- 0,1239) -- (FuelStationManagerController.west |- 0,1239);
\draw[ln] (CustomerWindow.east |- 0,1424) -- (CustomerController.west |- 0,1424);
\draw[ln] (SupplierWindow.south -| 1960,0) |- (SupplierController.west |- 0,997);
% logic
\draw[gen] (LoginController.north -| 2579,0) |- (ClientController.west |- 0,350);
\draw[gen] (UserController.north -| 2846,0) -- (ClientController.south -| 2846,0);
\draw[gen] (NetworkManagerController.north -| 2718,0) -- (UserController.south -| 2718,0);
\draw[gen] (CarProductController.north -| 2968,0) -- (UserController.south -| 2968,0);
\draw[gen] (MarketingDepWorkerController.north -| 2898,0) -- (CarProductController.south -| 2898,0);
\draw[gen] (OrderController.north east) -- (CarProductController.south west);
\draw[gen] (MarketingRepresentativeController.north -| 2854,0) -- (MarketingDepWorkerController.south -| 2854,0);
\draw[gen] (MarketingManagerController.north -| 3402,0) |- (MarketingDepWorkerController.east |- 0,758);
\draw[gen] (SupplierController.north -| 2589,0) -- (OrderController.south -| 2589,0);
\draw[gen] (FuelStationManagerController.north -| 2669,0) -- (OrderController.south -| 2669,0);
\draw[gen] (CustomerController.west |- 0,1396) -- (2183,1396) -- (2183,808) -- (OrderController.west |- 0,808);
\draw[dep] (CustomerController.south -| 2742,0) -- (HomeFuelController.north -| 2742,0);
\draw[dep] (CustomerController.south -| 2946,0) -- (FastFuelController.north -| 2946,0);
\draw[ln] (ClientController.east |- 0,340) -| (ServerController.north -| 3832,0);
\draw[dep] (ClientController.north -| 2931,0) |- (entL);
\draw[ln] (ServerController.east |- 0,817) -- (ServerWindow.west |- 0,817);
\draw[ln] (ServerController.south -| 3962,0) -- (DatabaseController.north -| 3962,0);
\draw[dep] (srvB) -- (ocsfS);
\draw[dep] (DatabaseController.south -| 3988,0) |- (jdbcL);
\draw[dep] (userB) -- (ocsfC);
\draw[dep] (bndR) -- (jfxL);
\draw[dep] (entB) -- (jdbcT);
% entities
\draw[ln] (RankingSheet.south east) -- (Customer.north west);
\draw[ln] (CustomerType.south -| 5769,0) -- (Customer.north -| 5769,0);
\draw[ln] (PricingModel.south -| 5940,0) |- (Customer.east |- 0,422);
\draw[gen] (Customer.west |- 0,436) -- (User.east |- 0,436);
\draw[ln] (Customer.east |- 0,455) -| (Car.south -| 6081,0);
\draw[ln] (Customer.east |- 0,474) -| (Sale.north -| 6755,0);
\draw[dsh] (6396,474) -- (CustomerBoughtInSale.north -| 6396,0);
\draw[ln] (Customer.east |- 0,494) -- (6049,494) -- (FastFuel.north -| 6350,0);
\draw[ln] (Customer.east |- 0,508) -- (5941,508) -- (6065,1035) -- (PurchasingProgram.west |- 0,1035);
\draw[ln] (Customer.west |- 0,507) -- (5081,507) -- (5081,1242) -- (FuelCompany.west |- 0,1242);
\draw[dsh] (CustomerBoughtFromCompany.east |- 0,816) -- (5081,816);
\draw[ln] (Customer.south -| 5823,0) -- (HomeFuelOrder.north -| 5823,0);
\draw[ln] (ActivityList.south -| 5214,0) -- (Activity.north -| 5214,0);
\draw[ln] (Activity.east |- 0,573) -| (Employee.north -| 5361,0);
\draw[gen] (Employee.north -| 5416,0) -- (User.south -| 5416,0);
\draw[ln] (Affiliation.east |- 0,719) -- (Employee.west |- 0,719);
\draw[gen] (FuelStationManager.north -| 5370,0) -- (Employee.south -| 5370,0);
\draw[ln] (Employee.south -| 5422,0) -- (5422,1275) -- (6246,1275) -- (FuelCompany.south -| 6246,0);
\draw[ln] (FuelStationManager.south -| 5288,0) -- (Notification.north -| 5288,0);
\draw[ln] (FuelStationManager.south -| 5363,0) -- (5363,1344) -- (6458,1344) -- (FuelStation.south -| 6458,0);
\draw[ln] (CustomerBoughtFromCompany.south -| 4928,0) -- (PeriodicCustomersReport.north -| 4928,0);
\draw[ln] (ShipmentMethod.east |- 0,687) -- (HomeFuelOrder.west |- 0,687);
\draw[ln] (ShipmentMethod.south -| 5604,0) -- (ShipmentType.north -| 5604,0);
\draw[gen] (HomeFuelOrder.south -| 5804,0) -- (Orders.north -| 5804,0);
\draw[ln] (HomeFuelOrder.south east) -- (Product.north west);
\draw[gen] (FuelStationOrder.north -| 5785,0) -- (Orders.south -| 5785,0);
\draw[ln] (FuelStationOrder.east |- 0,1381) -- (ProductInStation.west |- 0,1381);
\draw[ln] (PricingModelUpdateRequest.south -| 6229,0) -- (PricingModelType.north -| 6229,0);
\draw[ln] (PricingModel.east |- 0,273) -- (PricingModelType.west |- 0,273);
\draw[ln] (PricingModelType.east |- 0,247) -- (PricingModelName.west |- 0,247);
\draw[ln] (Car.south -| 6118,0) -- (FastFuel.north -| 6436,0);
\draw[ln] (Car.south east) -- (Product.north west);
\draw[ln] (SaleCommentsReport.south -| 6692,0) -- (Sale.north -| 6692,0);
\draw[ln] (Sale.south -| 6715,0) -- (SalesPattern.north -| 6715,0);
\draw[ln] (SalesPattern.south -| 6720,0) |- (Product.east |- 0,942);
\draw[dsh] (6720,848) -- (ProductInSalesPattern.west |- 0,848);
\draw[ln] (Product.east |- 0,964) -- (ProductName.west |- 0,964);
\draw[gen] (ProductInStation.north -| 6610,0) -- (Product.south -| 6610,0);
\draw[ln] (Product.south -| 6641,0) -- (ProductRatesUpdateRequest.north -| 6641,0);
\draw[dsh] (6641,1087) -- (ProductInRequest.west |- 0,1087);
\draw[ln] (PurchasingProgram.south -| 6161,0) -- (PurchasingProgramType.north -| 6161,0);
\draw[ln] (PurchasingProgram.south -| 6247,0) -- (FuelCompany.north -| 6247,0);
\draw[ln] (PurchasingProgramName.east |- 0,1173) -- (PurchasingProgramType.west |- 0,1173);
\draw[ln] (FuelCompany.east |- 0,1212) -| (FuelStation.north -| 6452,0);
\draw[ln] (FuelCompany.south -| 6300,0) -- (FuelCompanyName.north -| 6300,0);
\draw[ln] (FuelStation.south -| 6530,0) -- (ProductInStation.north -| 6530,0);
\draw[ln] (FuelStation.west |- 0,1296) -| (QuarterlyReport.north -| 6336,0);
\draw[ln] (FastFuel.east |- 0,1087) -| (ProductInStation.north -| 6589,0);
\draw[ln] (ProductInStation.west |- 0,1404) -| (IncomeReport.north -| 6077,0);
\draw[dsh] (ProductInIncomeReport.east |- 0,1496) -- (6077,1496);
\draw[ln] (ProductInStation.south -| 6550,0) -- (OutcomeReport.north -| 6550,0);
\draw[dsh] (6550,1542) -- (ProductInOutcomeReport.west |- 0,1542);
\draw[ln] (ProductInStation.east |- 0,1402) -- (6799,1402) -- (6799,1704) -- (InventoryReport.east |- 0,1704);
\draw[dsh] (6799,1553) -- (ProductInInventoryReport.west |- 0,1553);
\draw[gen] (IncomeReport.north -| 6155,0) |- (QuarterlyReport.west |- 0,1585);
\draw[gen] (OutcomeReport.west |- 0,1598) -- (QuarterlyReport.east |- 0,1598);
\draw[gen] (InventoryReport.north -| 6351,0) -- (QuarterlyReport.south -| 6351,0);
\end{pgfonlayer}
% ================= LABELS =================
\node[mlt,fill={rgb,255:red,255;green,210;blue,45}] (inst1) at (2742,1484) {<{}<instantiate>{}>};
\node[mlt,fill={rgb,255:red,255;green,210;blue,45}] (inst2) at (2946,1484) {<{}<instantiate>{}>};
\Ml{2999}{316}{0..*}\Ml{3812}{745}{1}\Ml{4118}{809}{1}\Ml{4170}{831}{1}\Ml{3973}{984}{1}\Ml{3940}{1054}{\textbf{1}}
\Ml{5612}{331}{1}\Ml{5711}{387}{1}\Ml{5781}{318}{1}\Ml{5951}{331}{1}\Ml{5902}{414}{1}\Ml{5896}{448}{1}\Ml{5900}{470}{0..*}\Ml{5896}{489}{1}\Ml{5904}{519}{1}
\Ml{5677}{518}{0..*}\Ml{5201}{524}{0..*}\Ml{5309}{557}{0..*}\Ml{5350}{620}{1}\Ml{5293}{713}{1}\Ml{5430}{761}{1}\Ml{5445}{775}{supplier}
\Ml{5793}{538}{1}\Ml{5793}{550}{buyer}\Ml{5796}{646}{0..*}\Ml{5677}{679}{1}\Ml{5709}{697}{0..*}\Ml{5591}{775}{1}\Ml{5932}{764}{0..*}
\Ml{4946}{868}{0..*}\Ml{4916}{931}{0..*}\Ml{5086}{895}{CustomerBoughtFromCompany}\Ml{5296}{930}{1}\Ml{5350}{934}{1}
\Ml{5265}{995}{0..*}\Ml{5874}{1374}{0..*}
\Ml{6094}{261}{0..*}\Ml{6137}{283}{1}\Ml{6364}{257}{1}\Ml{6066}{440}{1..*}\Ml{6215}{416}{0..*}\Ml{6137}{437}{1}\Ml{6332}{454}{CustomerBoughtInSale}
\Ml{6701}{588}{1}\Ml{6684}{605}{1}\Ml{6773}{595}{0..*}\Ml{6727}{722}{0..*}\Ml{6698}{734}{1}\Ml{6734}{839}{1..3}\Ml{6725}{874}{ProductInSalesPattern}\Ml{6664}{934}{1..*}
\Ml{6553}{897}{1}\Ml{6492}{922}{1}\Ml{6501}{932}{home fuel}\Ml{6817}{975}{1}
\Ml{6086}{1024}{1}\Ml{6327}{1031}{0..*}\Ml{6406}{1027}{0..*}\Ml{6484}{1072}{0..*}\Ml{6174}{1096}{0..*}\Ml{6259}{1096}{1..*}\Ml{6147}{1138}{1}\Ml{6231}{1192}{1...3}\Ml{5974}{1163}{1}
\Ml{6365}{1192}{1}\Ml{6410}{1204}{franchise, sole supplier}\Ml{6465}{1224}{1..*}\Ml{6192}{1233}{0..*}\Ml{6257}{1259}{1..*}\Ml{6291}{1272}{1}\Ml{6422}{1287}{1}\Ml{6463}{1334}{1}
\Ml{6537}{1335}{1}\Ml{6516}{1353}{1..*}\Ml{6499}{1374}{1}\Ml{6580}{1349}{1}\Ml{6651}{1001}{1..*}\Ml{6673}{1122}{ProductInRequest}\Ml{6654}{1159}{0..*}
\Ml{6494}{1415}{1..*}\Ml{6712}{1418}{1..*}\Ml{6567}{1468}{1..*}\Ml{6551}{1485}{ProductInOutcomeReport}\Ml{6048}{1463}{ProductInIncomeReport}\Ml{6315}{1510}{0..*}\Ml{6532}{1573}{0..*}\Ml{6047}{1633}{0..*}\Ml{6799}{1661}{ProductInInventoryReport}\Ml{6448}{1694}{0..*}
\end{tikzpicture}
\end{document}
